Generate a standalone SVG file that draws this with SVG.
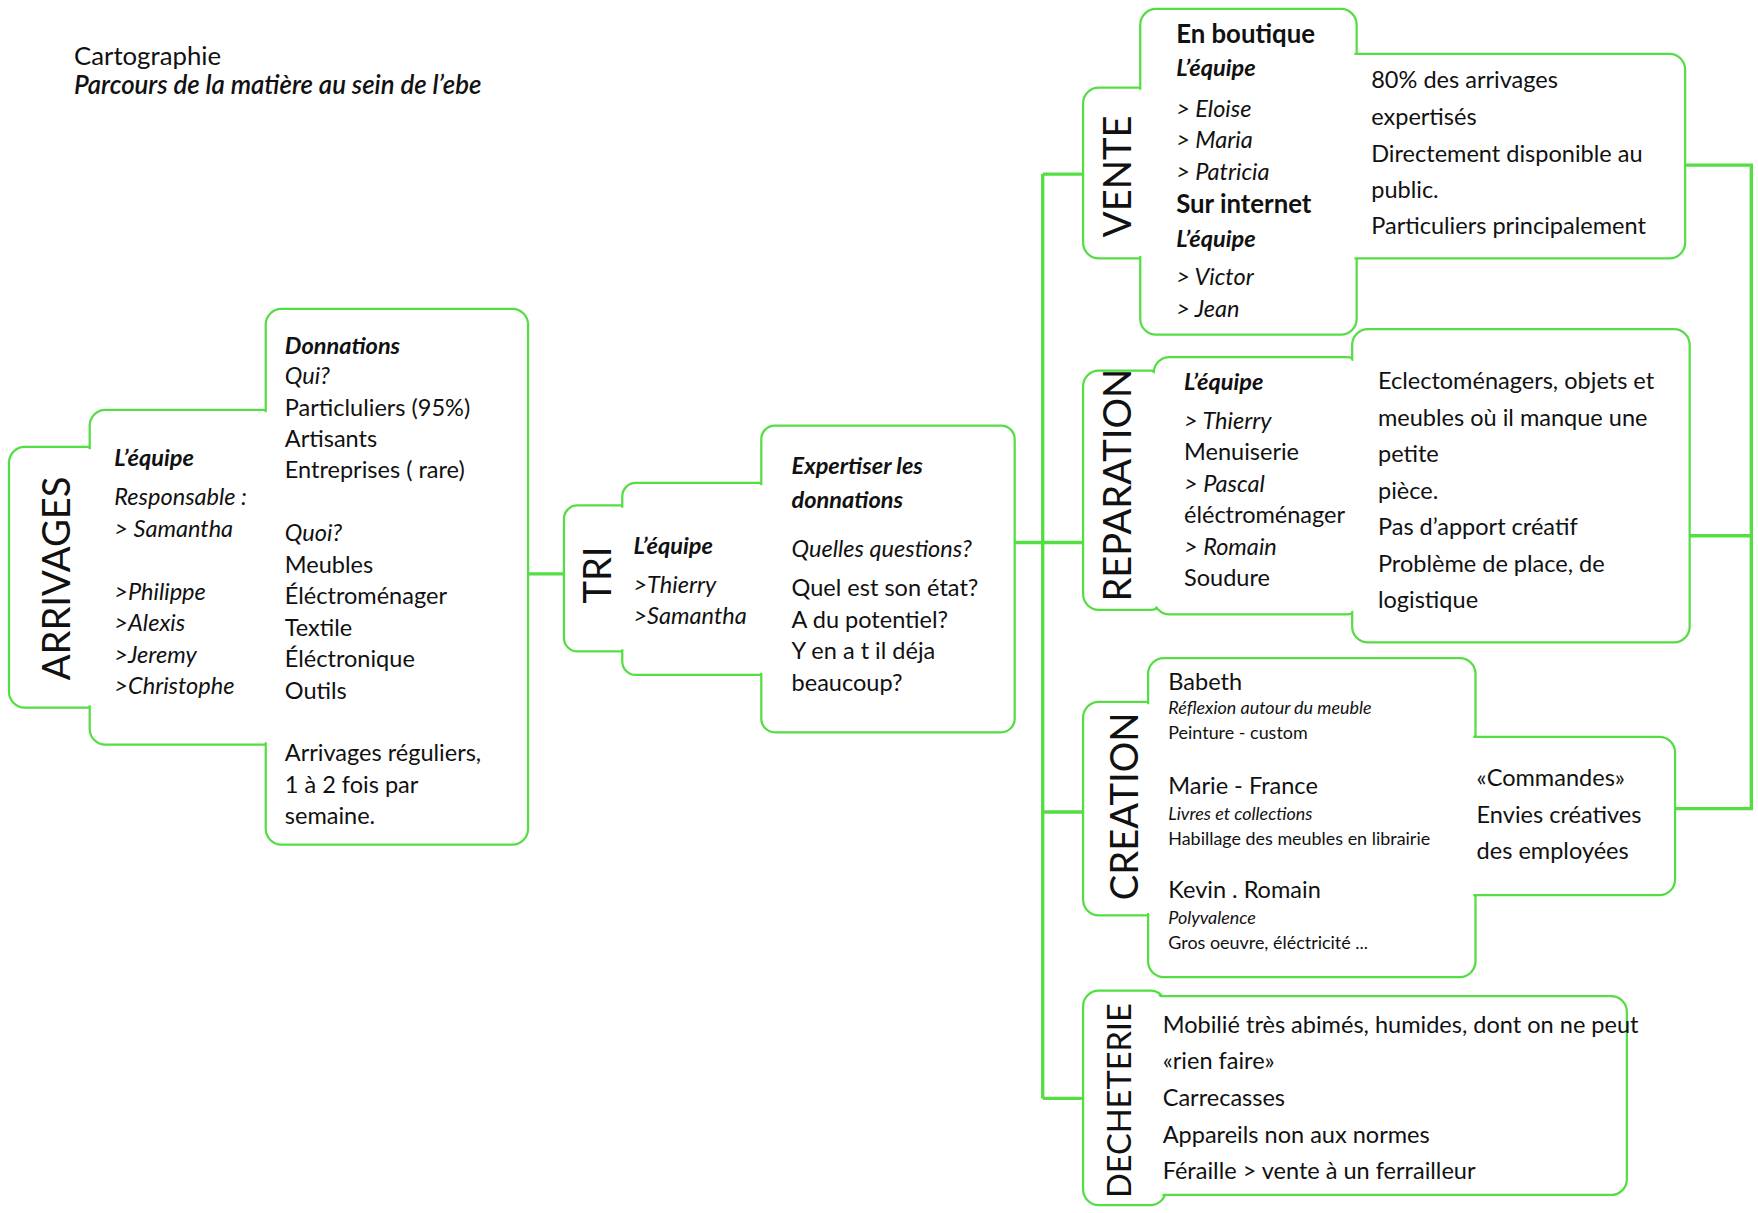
<svg xmlns="http://www.w3.org/2000/svg" width="1758" height="1213" viewBox="0 0 1758 1213">
<style>
text{font-family:Lato,"Open Sans",sans-serif;font-size:21px;fill:#111}
.i{font-style:italic}.b{font-weight:bold}.bi{font-weight:bold;font-style:italic}
.s{font-size:16px}.v{font-size:34px;text-anchor:middle}
.o{fill:#fff;stroke:#55dd44;stroke-width:2}
.f{fill:#fff;stroke:none}
.c{stroke:#55dd44;stroke-width:3;fill:none}
</style>
<rect width="1758" height="1213" fill="#fff"/>
<g transform="scale(1.1212,1.1231)">
<g id="title"><text x="66" y="58" style="font-size:23px">Cartographie</text><text x="66" y="84" class="bi" style="font-size:23px;font-weight:600">Parcours de la matière au sein de l’ebe</text></g>
<g id="connectors">
<path class="c" d="M471 511H503M905 483H966M930 155V978M930 155H966M930 723H966M930 978H966M1503 147H1562V720H1494M1507 477H1562"/>
</g>
<g id="arrivages">
<rect class="o" x="8" y="398" width="92" height="232" rx="14"/><rect class="o" x="80" y="365" width="180" height="298" rx="14"/><rect class="o" x="237" y="275" width="234" height="477" rx="14"/>
<rect class="f" x="10" y="400" width="88" height="228" rx="12"/><rect class="f" x="82" y="367" width="176" height="294" rx="12"/><rect class="f" x="239" y="277" width="230" height="473" rx="12"/>
<text class="v" transform="translate(62,515) rotate(-90)">ARRIVAGES</text>
<text x="102" y="415" class="bi">L’équipe</text>
<text x="102" y="450" class="i">Responsable :</text><text x="102" y="478" class="i">&gt; Samantha</text>
<text x="102" y="534" class="i">&gt;Philippe</text><text x="102" y="562" class="i">&gt;Alexis</text><text x="102" y="590" class="i">&gt;Jeremy</text><text x="102" y="618" class="i">&gt;Christophe</text>
<text x="254" y="315" class="bi">Donnations</text><text x="254" y="342" class="i">Qui?</text><text x="254" y="370">Particluliers (95%)</text><text x="254" y="398">Artisants</text><text x="254" y="426">Entreprises ( rare)</text>
<text x="254" y="482" class="i">Quoi?</text><text x="254" y="510">Meubles</text><text x="254" y="538">Éléctroménager</text><text x="254" y="566">Textile</text><text x="254" y="594">Éléctronique</text><text x="254" y="622">Outils</text>
<text x="254" y="678">Arrivages réguliers,</text><text x="254" y="706">1 à 2 fois par</text><text x="254" y="734">semaine.</text>
</g>
<g id="tri">
<rect class="o" x="503" y="450" width="77" height="130" rx="12"/><rect class="o" x="555" y="430" width="145" height="171" rx="12"/><rect class="o" x="679" y="379" width="226" height="273" rx="12"/>
<rect class="f" x="505" y="452" width="73" height="126" rx="10"/><rect class="f" x="557" y="432" width="141" height="167" rx="10"/><rect class="f" x="681" y="381" width="222" height="269" rx="10"/>
<text class="v" transform="translate(545,512) rotate(-90)">TRI</text>
<text x="565" y="493" class="bi">L’équipe</text><text x="565" y="528" class="i">&gt;Thierry</text><text x="565" y="556" class="i">&gt;Samantha</text>
<text x="706" y="422" class="bi">Expertiser les</text><text x="706" y="452" class="bi">donnations</text>
<text x="706" y="496" class="i">Quelles questions?</text><text x="706" y="531">Quel est son état?</text><text x="706" y="559">A du potentiel?</text><text x="706" y="587">Y en a t il déja</text><text x="706" y="615">beaucoup?</text>
</g>
<g id="vente">
<rect class="o" x="966" y="78" width="74" height="152" rx="14"/><rect class="o" x="1017" y="8" width="193" height="290" rx="14"/><rect class="o" x="1190" y="48" width="313" height="182" rx="14"/>
<rect class="f" x="968" y="80" width="70" height="148" rx="12"/><rect class="f" x="1019" y="10" width="189" height="286" rx="12"/><rect class="f" x="1192" y="50" width="309" height="178" rx="12"/>
<text class="v" transform="translate(1009,157) rotate(-90)">VENTE</text>
<text x="1049" y="38" class="b" style="font-size:23px">En boutique</text><text x="1049" y="68" class="bi">L’équipe</text>
<text x="1049" y="104" class="i">&gt; Eloise</text><text x="1049" y="132" class="i">&gt; Maria</text><text x="1049" y="160" class="i">&gt; Patricia</text>
<text x="1049" y="190" class="b" style="font-size:23px">Sur internet</text><text x="1049" y="220" class="bi">L’équipe</text>
<text x="1049" y="254" class="i">&gt; Victor</text><text x="1049" y="282" class="i">&gt; Jean</text>
<text x="1223" y="78">80% des arrivages</text><text x="1223" y="111">expertisés</text><text x="1223" y="144">Directement disponible au</text><text x="1223" y="176">public.</text><text x="1223" y="208">Particuliers principalement</text>
</g>
<g id="reparation">
<rect class="o" x="966" y="330" width="74" height="213" rx="14"/><rect class="o" x="1029" y="318" width="186" height="229" rx="14"/><rect class="o" x="1206" y="293" width="301" height="279" rx="14"/>
<rect class="f" x="968" y="332" width="70" height="209" rx="12"/><rect class="f" x="1031" y="320" width="182" height="225" rx="12"/><rect class="f" x="1208" y="295" width="297" height="275" rx="12"/>
<text class="v" transform="translate(1009,432) rotate(-90)">REPARATION</text>
<text x="1056" y="347" class="bi">L’équipe</text><text x="1056" y="382" class="i">&gt; Thierry</text><text x="1056" y="410">Menuiserie</text><text x="1056" y="438" class="i">&gt; Pascal</text><text x="1056" y="466">éléctroménager</text><text x="1056" y="494" class="i">&gt; Romain</text><text x="1056" y="522">Soudure</text>
<text x="1229" y="346">Eclectoménagers, objets et</text><text x="1229" y="379">meubles où il manque une</text><text x="1229" y="411">petite</text><text x="1229" y="444">pièce.</text><text x="1229" y="476">Pas d’apport créatif</text><text x="1229" y="509">Problème de place, de</text><text x="1229" y="541">logistique</text>
</g>
<g id="creation">
<rect class="o" x="966" y="625" width="74" height="190" rx="14"/><rect class="o" x="1024" y="586" width="292" height="284" rx="14"/><rect class="o" x="1300" y="656" width="194" height="141" rx="14"/>
<rect class="f" x="968" y="627" width="70" height="186" rx="12"/><rect class="f" x="1026" y="588" width="288" height="280" rx="12"/><rect class="f" x="1302" y="658" width="190" height="137" rx="12"/>
<text class="v" transform="translate(1015,718) rotate(-90)">CREATION</text>
<text x="1042" y="614">Babeth</text><text x="1042" y="636" class="i s">Réflexion autour du meuble</text><text x="1042" y="658" class="s">Peinture - custom</text>
<text x="1042" y="707">Marie - France</text><text x="1042" y="730" class="i s">Livres et collections</text><text x="1042" y="752" class="s">Habillage des meubles en librairie</text>
<text x="1042" y="800">Kevin . Romain</text><text x="1042" y="823" class="i s">Polyvalence</text><text x="1042" y="845" class="s">Gros oeuvre, éléctricité ...</text>
<text x="1317" y="700">«Commandes»</text><text x="1317" y="733">Envies créatives</text><text x="1317" y="765">des employées</text>
</g>
<g id="decheterie">
<rect class="o" x="966" y="882" width="74" height="191" rx="14"/><rect class="o" x="1020" y="887" width="431" height="177" rx="14"/>
<rect class="f" x="968" y="884" width="70" height="187" rx="12"/><rect class="f" x="1022" y="889" width="427" height="173" rx="12"/>
<text class="v" style="font-size:29px" transform="translate(1009,980) rotate(-90)">DECHETERIE</text>
<text x="1037" y="920">Mobilié très abimés, humides, dont on ne peut</text><text x="1037" y="952">«rien faire»</text><text x="1037" y="985">Carrecasses</text><text x="1037" y="1018">Appareils non aux normes</text><text x="1037" y="1050">Féraille &gt; vente à un ferrailleur</text>
</g>
</g>
</svg>
